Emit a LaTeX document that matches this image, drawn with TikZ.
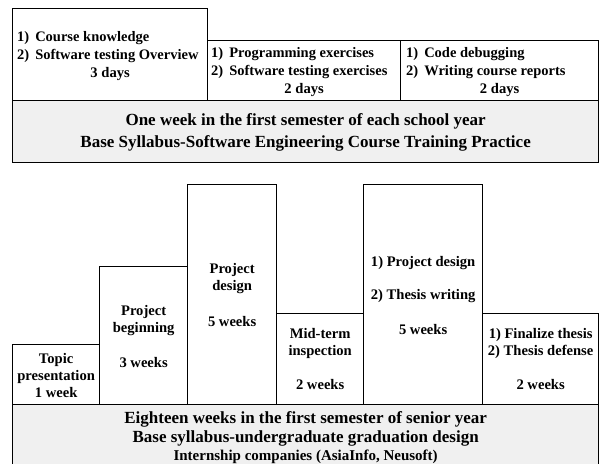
\documentclass[tikz,border=0pt]{standalone}
\usepackage{fontspec}
\setmainfont{Liberation Serif}
\usetikzlibrary{positioning}
\begin{document}
\begin{tikzpicture}[x=1pt,y=-1pt,
  box/.style={draw,line width=1.3pt,inner sep=0pt,anchor=north west},
  band/.style={box,fill=gray!12},
  lbl/.style={font=\bfseries\fontsize{14.6}{17}\selectfont,inner sep=0pt,align=center,anchor=base},
  item/.style={lbl,align=left,anchor=base west,font=\bfseries\fontsize{14.5}{18}\selectfont},
  head/.style={lbl,font=\bfseries\fontsize{17}{22}\selectfont}]
  \clip (0,0) rectangle (599,463);
  % one week of course training
  \node[box,minimum width=195pt,minimum height=92pt] (know) at (12,8) {};
  \node[box,minimum width=193pt,minimum height=60pt] (prog) at (207,40) {};
  \node[box,minimum width=198pt,minimum height=60pt] (debug) at (400,40) {};
  \node[band,minimum width=586pt,minimum height=61.5pt] (practice) at (12,100) {};
  \node[item] (knowtxt) at (17,59) {1)\hspace{6pt}Course knowledge\\2)\hspace{6pt}Software testing Overview};
  \node[lbl] (knowdays) at (know.south |- 0,77) {3 days};
  \node[item] (progtxt) at (211,75) {1)\hspace{6pt}Programming exercises\\2)\hspace{6pt}Software testing exercises};
  \node[lbl] (progdays) at (prog.south |- 0,93) {2 days};
  \node[item] (debugtxt) at (406,75) {1)\hspace{6pt}Code debugging\\2)\hspace{6pt}Writing course reports};
  \node[lbl] (debugdays) at (debug.south |- 0,93) {2 days};
  \node[head] (practicetxt) at (practice.north |- 0,147) {One week in the first semester of each school year\\Base Syllabus-Software Engineering Course Training Practice};
  % eighteen weeks of graduation design
  \node[box,minimum width=87pt,minimum height=60pt] (topic) at (12,344) {};
  \node[box,minimum width=88pt,minimum height=138pt] (begin) at (99,266) {};
  \node[box,minimum width=89pt,minimum height=220pt] (design) at (187,184) {};
  \node[box,minimum width=87pt,minimum height=91pt] (midterm) at (276,313) {};
  \node[box,minimum width=119pt,minimum height=220pt] (thesis) at (363,184) {};
  \node[box,minimum width=116pt,minimum height=91pt] (defense) at (482,313) {};
  \node[band,minimum width=586pt,minimum height=80pt] (graduation) at (12,404) {};
  \node[lbl] (topictxt) at (topic.south |- 0,397) {Topic\\presentation\\1 week};
  \node[lbl] (begintxt) at (begin.south |- 0,367) {Project\\beginning\\[18pt]3 weeks};
  \node[lbl] (designtxt) at (design.south |- 0,326) {Project\\design\\[19pt]5 weeks};
  \node[lbl] (midtermtxt) at (midterm.south |- 0,389) {Mid-term\\inspection\\[17pt]2 weeks};
  \node[lbl] (thesistxt) at (thesis.south |- 0,334) {1) Project design\\[16pt]2) Thesis writing\\[18pt]5 weeks};
  \node[lbl] (defensetxt) at (defense.south |- 0,389) {1) Finalize thesis\\2) Thesis defense\\[17pt]2 weeks};
  \node[head,font=\bfseries\fontsize{17}{19}\selectfont] (graduationtxt) at (graduation.north |- 0,460) {Eighteen weeks in the first semester of senior year\\Base syllabus-undergraduate graduation design\\[-1pt]{\fontsize{15}{18}\selectfont Internship companies (AsiaInfo, Neusoft)}};
\end{tikzpicture}
\end{document}
